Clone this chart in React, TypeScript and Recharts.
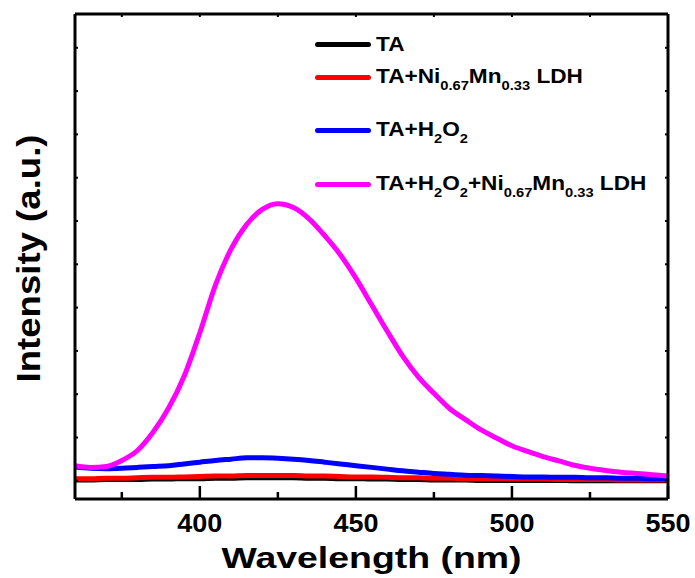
import React from "react";
import { LineChart, Line, XAxis, YAxis, Legend } from "recharts";

// wavelength grid (nm) and intensities
const wavelength = [
  360, 365, 370, 375, 380, 385, 390, 395, 400, 405, 410, 415, 420, 425, 430, 435, 440, 445, 450, 455,
  460, 465, 470, 475, 480, 485, 490, 495, 500, 505, 510, 515, 520, 525, 530, 535, 540, 545, 550,
];
const taValues = [
  2, 2, 3, 3, 3, 4, 4, 5, 5, 6, 6, 7, 7, 7, 7, 6, 6, 5, 5, 4,
  4, 3, 3, 2, 2, 2, 1, 1, 1, 1, 1, 1, 0, 0, 0, 0, 0, 0, 0,
];
const taLdhValues = [
  5, 5, 6, 6, 7, 8, 8, 9, 10, 11, 11, 12, 12, 12, 12, 11, 11, 10, 9, 9,
  8, 7, 7, 6, 6, 5, 5, 5, 4, 4, 4, 3, 3, 3, 3, 2, 2, 2, 2,
];
const taH2o2Values = [
  32, 29, 28, 29, 31, 33, 35, 39, 43, 47, 50, 53, 53, 52, 50, 47, 43, 39, 35, 31,
  27, 23, 20, 17, 15, 13, 12, 11, 10, 9, 9, 8, 8, 7, 7, 6, 6, 5, 5,
];
const taH2o2LdhValues = [
  35, 31, 33, 47, 70, 112, 168, 242, 342, 452, 535, 592, 627, 640, 631, 605, 566, 522, 468, 407,
  346, 288, 240, 202, 167, 142, 118, 99, 81, 68, 56, 46, 36, 29, 24, 20, 17, 14, 11,
];

const seriesNames = [
  "TA",
  "TA+Ni_{0.67}Mn_{0.33} LDH",
  "TA+H_2O_2",
  "TA+H_2O_2+Ni_{0.67}Mn_{0.33} LDH",
];
const seriesColors = ["#000000", "#ff0000", "#0000ff", "#ff00ff"];
const seriesValues = [taValues, taLdhValues, taH2o2Values, taH2o2LdhValues];

const xTicks = [375, 400, 425, 450, 475, 500, 525, 550];
const yTicks = [0, 100, 200, 300, 400, 500, 600, 700, 800, 900, 1000];

const data = wavelength.map((w, i) => {
  const row: Record<string, number> = { w };
  seriesValues.forEach((vals, s) => {
    row[`s${s}`] = vals[i];
  });
  return row;
});

const FONT = '"Liberation Sans", Arial, sans-serif';
const legendRowTop = [0, 33, 86, 140];

function renderName(name: string) {
  const parts: React.ReactNode[] = [];
  const re = /_\{([^}]*)\}|_(.)/g;
  let last = 0;
  let k = 0;
  let m: RegExpExecArray | null;
  while ((m = re.exec(name))) {
    if (m.index > last) parts.push(<span key={k++}>{name.slice(last, m.index)}</span>);
    parts.push(
      <span key={k++} style={{ fontSize: 13, position: "relative", top: 7 }}>
        {m[1] ?? m[2]}
      </span>
    );
    last = re.lastIndex;
  }
  if (last < name.length) parts.push(<span key={k++}>{name.slice(last)}</span>);
  return parts;
}

const LegendBox = () => (
  <div style={{ position: "relative", fontFamily: FONT, fontWeight: "bold", fontSize: 20, color: "#000" }}>
    {seriesNames.map((name, i) => (
      <div
        key={name}
        style={{ position: "absolute", left: 0, top: legendRowTop[i], height: 0, display: "flex", alignItems: "center" }}
      >
        <div style={{ width: 56, height: 5, borderRadius: 3, background: seriesColors[i], flex: "none" }} />
        <span
          style={{
            marginLeft: 5,
            whiteSpace: "pre",
            lineHeight: "20px",
            display: "inline-block",
            transform: "scaleX(1.13)",
            transformOrigin: "left center",
          }}
        >
          {renderName(name)}
        </span>
      </div>
    ))}
  </div>
);

const BottomTick = (p: any) => {
  const v = p.payload.value;
  const major = v % 50 === 0;
  return (
    <g>
      <line x1={p.x} x2={p.x} y1={p.y} y2={p.y - (major ? 13 : 7)} stroke="#000" strokeWidth={2.5} />
      {major && (
        <text
          x={p.x}
          y={p.y + 33}
          textAnchor="middle"
          fontFamily={FONT}
          fontWeight="bold"
          fontSize={25}
          textLength={45}
          lengthAdjust="spacingAndGlyphs"
          fill="#000"
        >
          {v}
        </text>
      )}
    </g>
  );
};

const TopTick = (p: any) => (
  <line x1={p.x} x2={p.x} y1={p.y} y2={p.y + 3} stroke="#000" strokeWidth={2} />
);
const LeftTick = (p: any) => (
  <line x1={p.x} x2={p.x + 3} y1={p.y} y2={p.y} stroke="#000" strokeWidth={2} />
);
const RightTick = (p: any) => (
  <line x1={p.x} x2={p.x - 3} y1={p.y} y2={p.y} stroke="#000" strokeWidth={2} />
);

const XLabel = (p: any) => {
  const vb = p.viewBox;
  return (
    <text
      x={vb.x + vb.width / 2}
      y={vb.y + 69}
      textAnchor="middle"
      fontFamily={FONT}
      fontWeight="bold"
      fontSize={30}
      textLength={300}
      lengthAdjust="spacingAndGlyphs"
      fill="#000"
    >
      Wavelength (nm)
    </text>
  );
};

const YLabel = (p: any) => {
  const vb = p.viewBox;
  const x = vb.x + vb.width - 35;
  const y = vb.y + vb.height / 2 + 2;
  return (
    <text
      x={x}
      y={y}
      transform={`rotate(-90, ${x}, ${y})`}
      textAnchor="middle"
      fontFamily={FONT}
      fontWeight="bold"
      fontSize={33}
      textLength={248}
      lengthAdjust="spacingAndGlyphs"
      fill="#000"
    >
      Intensity (a.u.)
    </text>
  );
};

export default function App() {
  const axisCommon = {
    axisLine: { stroke: "#000", strokeWidth: 3, strokeOpacity: 1 },
    tickLine: false,
    tickSize: 0,
    tickMargin: 0,
    interval: 0 as const,
    allowDataOverflow: true,
  };
  return (
    <div style={{ position: "absolute", left: 0, top: 0, background: "#fff" }}>
      <LineChart width={695} height={578} data={data} margin={{ top: 13, right: 26, bottom: 78, left: 74 }}>
        <XAxis
          xAxisId="b"
          dataKey="w"
          type="number"
          domain={[360, 550]}
          ticks={xTicks}
          height={1}
          tick={BottomTick}
          label={XLabel}
          {...axisCommon}
        />
        <XAxis
          xAxisId="t"
          orientation="top"
          dataKey="w"
          type="number"
          domain={[360, 550]}
          ticks={xTicks}
          height={1}
          tick={TopTick}
          {...axisCommon}
        />
        <YAxis
          yAxisId="l"
          type="number"
          domain={[-42, 1078]}
          ticks={yTicks}
          width={1}
          tick={LeftTick}
          label={YLabel}
          {...axisCommon}
        />
        <YAxis
          yAxisId="r"
          orientation="right"
          type="number"
          domain={[-42, 1078]}
          ticks={yTicks}
          width={1}
          tick={RightTick}
          {...axisCommon}
        />
        <Legend
          layout="vertical"
          align="center"
          verticalAlign="middle"
          content={LegendBox}
          wrapperStyle={{ left: 315, top: 44, width: 380, height: 160 }}
        />
        {seriesNames.map((name, s) => (
          <Line
            key={name}
            xAxisId="b"
            yAxisId="l"
            dataKey={`s${s}`}
            name={name}
            type="monotone"
            stroke={seriesColors[s]}
            strokeWidth={5}
            dot={false}
            activeDot={false}
            isAnimationActive={false}
          />
        ))}
      </LineChart>
    </div>
  );
}
